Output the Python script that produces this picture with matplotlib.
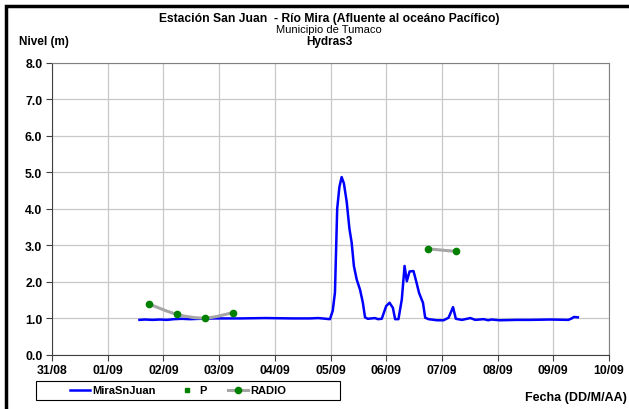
import matplotlib
matplotlib.use("Agg")
import matplotlib.pyplot as plt
from matplotlib.path import Path
from matplotlib.patches import PathPatch, Rectangle
from matplotlib.lines import Line2D
import numpy as np

plt.rcParams["font.family"] = ["Liberation Sans", "DejaVu Sans"]

# x values are days counted from 31/08 00:00
day_labels = ["31/08", "01/09", "02/09", "03/09", "04/09", "05/09",
              "06/09", "07/09", "08/09", "09/09", "10/09"]

mira_t = [1.57, 1.67, 1.80, 1.94, 2.06, 2.19, 2.33, 2.48, 2.66, 2.93, 3.38,
          3.82, 4.31, 4.63, 4.78, 4.92, 4.99, 5.04, 5.08, 5.12, 5.16, 5.20,
          5.24, 5.29, 5.34, 5.38, 5.42, 5.47, 5.53, 5.58, 5.62, 5.67, 5.80,
          5.85, 5.92, 6.00, 6.06, 6.12, 6.16, 6.22, 6.28, 6.33, 6.37, 6.42,
          6.49, 6.54, 6.59, 6.66, 6.70, 6.76, 6.91, 7.03, 7.12, 7.20, 7.25,
          7.36, 7.51, 7.60, 7.75, 7.83, 7.89, 8.04, 8.34, 8.58, 8.94, 9.27,
          9.33, 9.37, 9.44]
mira_h = [0.95, 0.96, 0.95, 0.96, 0.95, 0.97, 0.98, 0.97, 0.98, 0.99, 0.99,
          1.00, 0.99, 0.99, 1.00, 0.98, 0.97, 1.20, 1.70, 4.00, 4.60, 4.87,
          4.70, 4.20, 3.45, 3.07, 2.43, 2.06, 1.78, 1.43, 1.02, 0.98, 1.00,
          0.97, 0.98, 1.33, 1.42, 1.28, 0.97, 0.97, 1.51, 2.43, 2.01, 2.28,
          2.29, 2.00, 1.69, 1.42, 1.01, 0.97, 0.94, 0.94, 1.01, 1.30, 0.98,
          0.95, 1.00, 0.95, 0.97, 0.94, 0.96, 0.94, 0.95, 0.95, 0.96, 0.95,
          0.99, 1.03, 1.02]

radio_t = [1.75, 2.25, 2.75, 3.25, 6.75, 7.25]
radio_h = [1.38, 1.10, 1.00, 1.15, 2.90, 2.83]
radio_group = [0, 0, 0, 0, 1, 1]

BLUE = "#0000FF"
GREEN = "#008000"
GRAY = "#A6A6A6"


def smooth_path(xs, ys):
    # excel-style smoothed line through the given points (bezier segments)
    pts = np.column_stack([xs, ys])
    n = len(pts)
    verts = [pts[0]]
    codes = [Path.MOVETO]
    for i in range(n - 1):
        p0 = pts[i - 1] if i > 0 else pts[i]
        p1, p2 = pts[i], pts[i + 1]
        p3 = pts[i + 2] if i + 2 < n else p2
        verts += [p1 + (p2 - p0) / 6, p2 - (p3 - p1) / 6, p2]
        codes += [Path.CURVE4] * 3
    return Path(verts, codes)


fig = plt.figure(figsize=(6.29, 4.10), dpi=100)
ax = fig.add_axes([52 / 629, 1 - 355.5 / 410, 557 / 629, 291.5 / 410])

ax.set_xlim(0, len(day_labels) - 1)
ax.set_ylim(0, 8)
ax.set_xticks(range(len(day_labels)))
ax.set_xticklabels(day_labels)
ax.set_yticks(np.arange(0, 8.1, 1.0))
ax.set_yticklabels([f"{v:.1f}" for v in np.arange(0, 8.1, 1.0)])
ax.grid(True, color="#C8C8C8", linewidth=0.9)
ax.set_axisbelow(True)
for lab in ax.get_xticklabels() + ax.get_yticklabels():
    lab.set_fontweight("bold")
    lab.set_fontsize(8.8)
ax.tick_params(axis="both", direction="out", length=4, width=0.8, color="#404040", pad=3)
ax.spines["left"].set_color("#404040")
ax.spines["bottom"].set_color("#404040")
ax.spines["top"].set_color("#808080")
ax.spines["right"].set_color("#808080")

ax.plot(mira_t, mira_h, color=BLUE, linewidth=1.8, zorder=3)

rt = np.array(radio_t)
rh = np.array(radio_h)
rg = np.array(radio_group)
for g in np.unique(rg):
    m = rg == g
    ax.add_patch(PathPatch(smooth_path(rt[m], rh[m]), facecolor="none",
                           edgecolor=GRAY, linewidth=2.2, zorder=4))
ax.plot(rt, rh, linestyle="none", marker="o", markersize=4.5, color=GREEN, zorder=5)

# titles
fig.text(329 / 629, 1 - 22 / 410, "Estación San Juan  - Río Mira (Afluente al oceáno Pacífico)",
         ha="center", va="baseline", fontsize=8.7, fontweight="bold")
fig.text(329 / 629, 1 - 33 / 410, "Municipio de Tumaco", ha="center", va="baseline", fontsize=8)
fig.text(329 / 629, 1 - 44.5 / 410, "Hydras3", ha="center", va="baseline", fontsize=8.5,
         fontweight="bold")
fig.text(19 / 629, 1 - 44.5 / 410, "Nivel (m)", ha="left", va="baseline", fontsize=8.5,
         fontweight="bold")
fig.text(627 / 629, 1 - 398 / 410, "Fecha (DD/M/AA)", ha="right", va="center",
         fontsize=9, fontweight="bold")

handles = [
    Line2D([], [], color=BLUE, linewidth=1.8),
    Line2D([], [], color=GREEN, linestyle="none", marker="s", markersize=2.5),
    Line2D([], [], color=GRAY, linewidth=2.2, marker="o", markersize=4.5,
           markerfacecolor=GREEN, markeredgecolor=GREEN),
]
leg = fig.legend(handles, ["MiraSnJuan", "P", "RADIO"], ncol=3,
                 loc="center left", bbox_to_anchor=(70 / 629, 1 - 391.5 / 410),
                 prop={"weight": "bold", "size": 8}, frameon=False,
                 handlelength=1.8, handletextpad=0.2, columnspacing=1.9,
                 borderpad=0, borderaxespad=0)
fig.add_artist(Rectangle((36 / 629, 1 - 401 / 410), 304 / 629, 19 / 410,
                         transform=fig.transFigure, fill=False,
                         edgecolor="black", linewidth=0.8))

# outer frame (runs off the right and bottom edges)
fig.add_artist(Rectangle((6 / 629, -0.1), 1.2, 1 - 7 / 410 + 0.1, transform=fig.transFigure,
                         fill=False, edgecolor="black", linewidth=2.5))

fig.savefig("out.png", dpi=100)
